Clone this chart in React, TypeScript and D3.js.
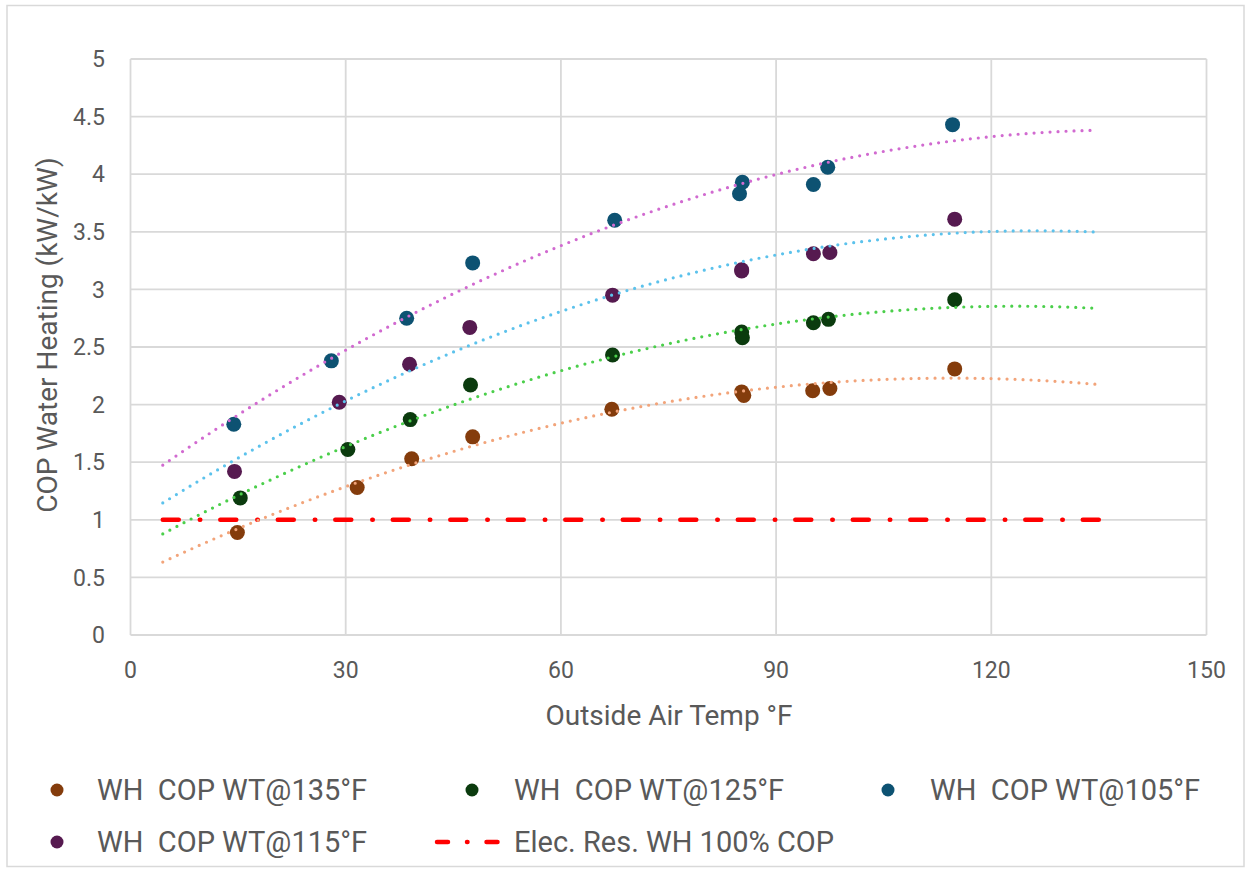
import React from "react";
import * as d3 from "d3";

const xTicks = [0, 30, 60, 90, 120, 150];
const yTicks = [0, 0.5, 1, 1.5, 2, 2.5, 3, 3.5, 4, 4.5, 5];

const x135 = [14.9, 31.6, 39.2, 47.7, 67.1, 85.2, 85.5, 95.1, 97.5, 114.9];
const y135 = [0.89, 1.28, 1.53, 1.72, 1.96, 2.11, 2.08, 2.12, 2.14, 2.31];
const x125 = [15.3, 30.3, 39.0, 47.4, 67.2, 85.2, 85.3, 95.2, 97.3, 114.9];
const y125 = [1.19, 1.61, 1.87, 2.17, 2.43, 2.63, 2.58, 2.71, 2.74, 2.91];
const x105 = [14.4, 28.0, 38.5, 47.7, 67.5, 84.9, 85.3, 95.2, 97.2, 114.6];
const y105 = [1.83, 2.38, 2.75, 3.23, 3.60, 3.83, 3.93, 3.91, 4.06, 4.43];
const x115 = [14.5, 29.1, 38.9, 47.3, 67.2, 85.2, 85.2, 95.2, 97.5, 114.9];
const y115 = [1.42, 2.02, 2.35, 2.67, 2.95, 3.16, 3.17, 3.31, 3.32, 3.61];

const trendRange = [4.5, 134.5];
const elecRange = [4.5, 135];
const elecValue = 1;

const seriesNames = ["WH  COP WT@135°F", "WH  COP WT@125°F", "WH  COP WT@105°F", "WH  COP WT@115°F"];
const markerColors = ["#843C0C", "#0B3B0E", "#0D5272", "#561A50"];
const trendColors = ["#F2A47A", "#4BCF4B", "#D16AD0", "#5CC2EC"];
const elecName = "Elec. Res. WH 100% COP";

const seriesX = [x135, x125, x105, x115];
const seriesY = [y135, y125, y105, y115];

function quadFit(xs: number[], ys: number[]) {
  let s0 = 0, s1 = 0, s2 = 0, s3 = 0, s4 = 0, t0 = 0, t1 = 0, t2 = 0;
  xs.forEach((x, i) => {
    const y = ys[i];
    s0 += 1; s1 += x; s2 += x * x; s3 += x * x * x; s4 += x * x * x * x;
    t0 += y; t1 += x * y; t2 += x * x * y;
  });
  const M = [
    [s0, s1, s2, t0],
    [s1, s2, s3, t1],
    [s2, s3, s4, t2],
  ];
  for (let i = 0; i < 3; i++) {
    for (let k = i + 1; k < 3; k++) {
      const f = M[k][i] / M[i][i];
      for (let j = i; j < 4; j++) M[k][j] -= f * M[i][j];
    }
  }
  const c = M[2][3] / M[2][2];
  const b = (M[1][3] - M[1][2] * c) / M[1][1];
  const a = (M[0][3] - M[0][1] * b - M[0][2] * c) / M[0][0];
  return (x: number) => a + b * x + c * x * x;
}

const FONT = "Roboto, 'Liberation Sans', sans-serif";

export default function App() {
  const W = 1250, H = 869;
  const left = 130.5, right = 1206.5, top = 59, bottom = 635;
  const xs = d3.scaleLinear().domain([0, 150]).range([left, right]);
  const ys = d3.scaleLinear().domain([0, 5]).range([bottom, top]);
  const line = d3.line<[number, number]>().x(d => xs(d[0])).y(d => ys(d[1]));

  const trends = seriesX.map((sx, i) => {
    const f = quadFit(sx, seriesY[i]);
    const pts: [number, number][] = d3.range(0, 101).map(k => {
      const x = trendRange[0] + (trendRange[1] - trendRange[0]) * k / 100;
      return [x, f(x)];
    });
    return pts;
  });

  const legendItems = [
    { i: 0, mx: 57, tx: 97, y: 790 },
    { i: 1, mx: 472, tx: 514, y: 790 },
    { i: 2, mx: 888, tx: 930, y: 790 },
    { i: 3, mx: 57, tx: 97, y: 842 },
  ];

  return (
    <svg width={W} height={H} style={{ display: "block", position: "absolute", left: 0, top: 0 }} fontFamily={FONT}>
      <rect x={0} y={0} width={W} height={H} fill="#fff" />
      <rect x={7} y={5.5} width={1237} height={861} fill="#fff" stroke="#D9D9D9" strokeWidth={1.5} />
      {yTicks.map(t => (
        <line key={"gy" + t} x1={left} x2={right} y1={ys(t)} y2={ys(t)} stroke="#D9D9D9" strokeWidth={1.8} />
      ))}
      {xTicks.map(t => (
        <line key={"gx" + t} x1={xs(t)} x2={xs(t)} y1={top} y2={bottom} stroke="#D9D9D9" strokeWidth={1.8} />
      ))}
      {yTicks.map(t => (
        <text key={"ly" + t} x={105} y={ys(t)} dy="0.36em" textAnchor="end" fontSize={23} fill="#595959">{t}</text>
      ))}
      {xTicks.map(t => (
        <text key={"lx" + t} x={xs(t)} y={678} textAnchor="middle" fontSize={23} fill="#595959">{t}</text>
      ))}
      <text x={669} y={725} textAnchor="middle" fontSize={28} fill="#595959">Outside Air Temp °F</text>
      <text transform={`translate(57,335) rotate(-90)`} textAnchor="middle" fontSize={28} fill="#595959">COP Water Heating (kW/kW)</text>
      <path d={line([[elecRange[0], elecValue], [elecRange[1], elecValue]]) || ""} stroke="#FF0000" strokeWidth={4.5}
        strokeLinecap="round" strokeDasharray="16,21,0.5,20" fill="none" />
      {seriesX.map((sx, i) => (
        <g key={"s" + i}>
          {sx.map((x, j) => (
            <circle key={j} cx={xs(x)} cy={ys(seriesY[i][j])} r={7.5} fill={markerColors[i]} />
          ))}
        </g>
      ))}
      {trends.map((pts, i) => (
        <path key={"t" + i} d={line(pts) || ""} stroke={trendColors[i]} strokeWidth={3.2} strokeLinecap="round"
          strokeDasharray="0,8" fill="none" />
      ))}
      {legendItems.map((it, k) => (
        <g key={"lg" + k}>
          <circle cx={it.mx} cy={it.y} r={6.5} fill={markerColors[it.i]} />
          <text x={it.tx} y={it.y} dy="0.36em" fontSize={29} fill="#595959" style={{ whiteSpace: "pre" }}>{seriesNames[it.i]}</text>
        </g>
      ))}
      <line x1={437} x2={507} y1={842} y2={842} stroke="#FF0000" strokeWidth={4.5} strokeLinecap="round" strokeDasharray="11,19,0.5,19" />
      <text x={514} y={842} dy="0.36em" fontSize={29} fill="#595959">{elecName}</text>
    </svg>
  );
}
